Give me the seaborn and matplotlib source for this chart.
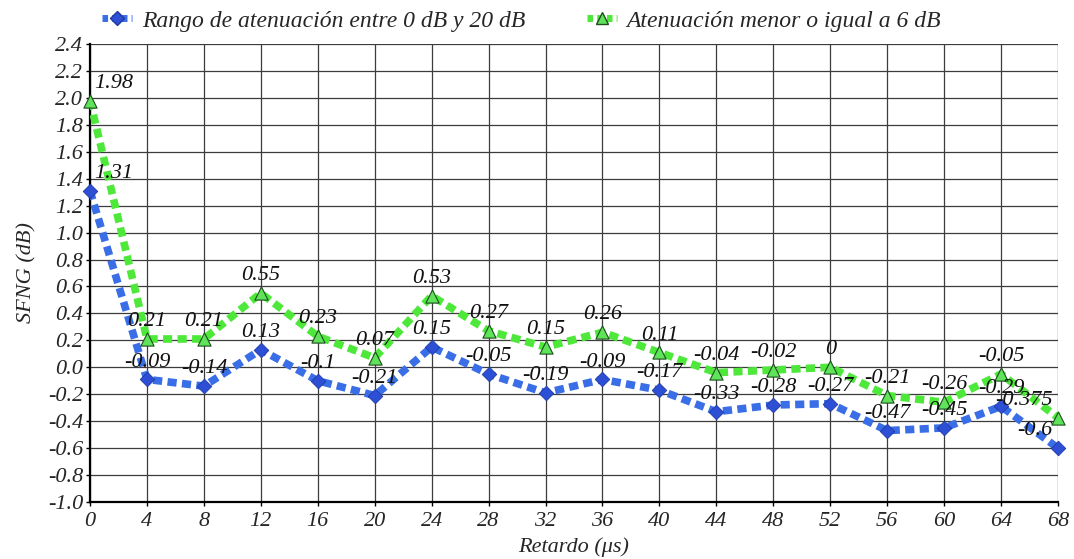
import matplotlib
matplotlib.use("Agg")
import matplotlib.pyplot as plt
import seaborn as sns
import pandas as pd
from matplotlib.lines import Line2D

retardo = [0, 4, 8, 12, 16, 20, 24, 28, 32, 36, 40, 44, 48, 52, 56, 60, 64, 68]
rango_0_20 = [1.31, -0.09, -0.14, 0.13, -0.1, -0.21, 0.15, -0.05, -0.19, -0.09,
              -0.17, -0.33, -0.28, -0.27, -0.47, -0.45, -0.29, -0.6]
menor_6 = [1.98, 0.21, 0.21, 0.55, 0.23, 0.07, 0.53, 0.27, 0.15, 0.26,
           0.11, -0.04, -0.02, 0, -0.21, -0.26, -0.05, -0.375]
serie_blue = "Rango de atenuación entre 0 dB y 20 dB"
serie_green = "Atenuación menor o igual a 6 dB"
y_ticks = [round(-1.0 + 0.2 * i, 1) for i in range(18)]

sns.set_theme(style="white")
plt.rcParams['font.family'] = ['Liberation Serif', 'DejaVu Serif']
plt.rcParams['font.style'] = 'italic'

fig = plt.figure(figsize=(10.74, 5.59), dpi=100)
ax = fig.add_axes([0.0838, 0.1020, 0.9013, 0.8193])

blue_line = "#3a6ee6"
blue_mark = "#2d4fd6"
green_line = "#4ee83a"
green_mark = "#5fe35a"

df_b = pd.DataFrame({"x": retardo, "y": rango_0_20})
df_g = pd.DataFrame({"x": retardo, "y": menor_6})

sns.lineplot(data=df_b, x="x", y="y", ax=ax, color=blue_line, lw=5.5,
             zorder=3, legend=False)
sns.lineplot(data=df_g, x="x", y="y", ax=ax, color=green_line, lw=5.5,
             zorder=3, legend=False)
for ln in ax.get_lines():
    ln.set_dashes((1.2, 0.7))
    ln.set_dash_capstyle('butt')

sns.scatterplot(data=df_b, x="x", y="y", ax=ax, marker="D", s=55,
                color=blue_mark, edgecolor="#1f3aa0", linewidth=0.6,
                zorder=4, legend=False, clip_on=False)
sns.scatterplot(data=df_g, x="x", y="y", ax=ax, marker="^", s=90,
                color=green_mark, edgecolor="#1e4d1e", linewidth=0.8,
                zorder=4, legend=False, clip_on=False)

n = len(retardo)
for series in (rango_0_20, menor_6):
    for i, (xv, yv) in enumerate(zip(retardo, series)):
        if i == 0:
            ha, dx = 'left', 3
        elif i == n - 1:
            ha, dx = 'right', -4
        else:
            ha, dx = 'center', 0
        ax.annotate(f"{yv:g}", (xv, yv), xytext=(dx, 12.5), textcoords='offset points',
                    ha=ha, va='center', fontsize=16, style='italic',
                    color="#111111", zorder=5)

ax.set_xlim(0, 68)
ax.set_ylim(-1.0, 2.4)
ax.set_xticks(retardo)
ax.set_xticklabels([str(v) for v in retardo])
ax.set_yticks(y_ticks)
ax.set_yticklabels([f"{v:.1f}" for v in y_ticks])
ax.tick_params(axis='both', labelsize=16, length=3, width=1, color='black',
               direction='out', bottom=True, left=True)
ax.tick_params(axis='x', pad=4)
ax.tick_params(axis='y', pad=2)
ax.grid(True, color="#3c3c3c", lw=0.9)
ax.set_axisbelow(True)
for side in ('top', 'right'):
    ax.spines[side].set_visible(False)
for side in ('left', 'bottom'):
    ax.spines[side].set_color('black')
    ax.spines[side].set_linewidth(1.6)

ax.set_xlabel("Retardo (μs)", fontsize=16, style='italic', labelpad=5)
ax.set_ylabel("SFNG (dB)", fontsize=16, style='italic', labelpad=8)

handles = [
    Line2D([0], [0], color=blue_line, lw=5, dashes=(0.8, 0.6), marker='D',
           markersize=7, markerfacecolor=blue_mark, markeredgecolor="#1f3aa0"),
    Line2D([0], [0], color=green_line, lw=5, dashes=(0.8, 0.6), marker='^',
           markersize=8, markerfacecolor=green_mark, markeredgecolor="#1e4d1e"),
]
fig.legend(handles, [serie_blue, serie_green], loc='upper left',
           bbox_to_anchor=(0.075, 1.02), ncol=2, frameon=False,
           fontsize=17, handlelength=1.3, columnspacing=2.6, handletextpad=0.4)

fig.savefig("out.png", dpi=100)
